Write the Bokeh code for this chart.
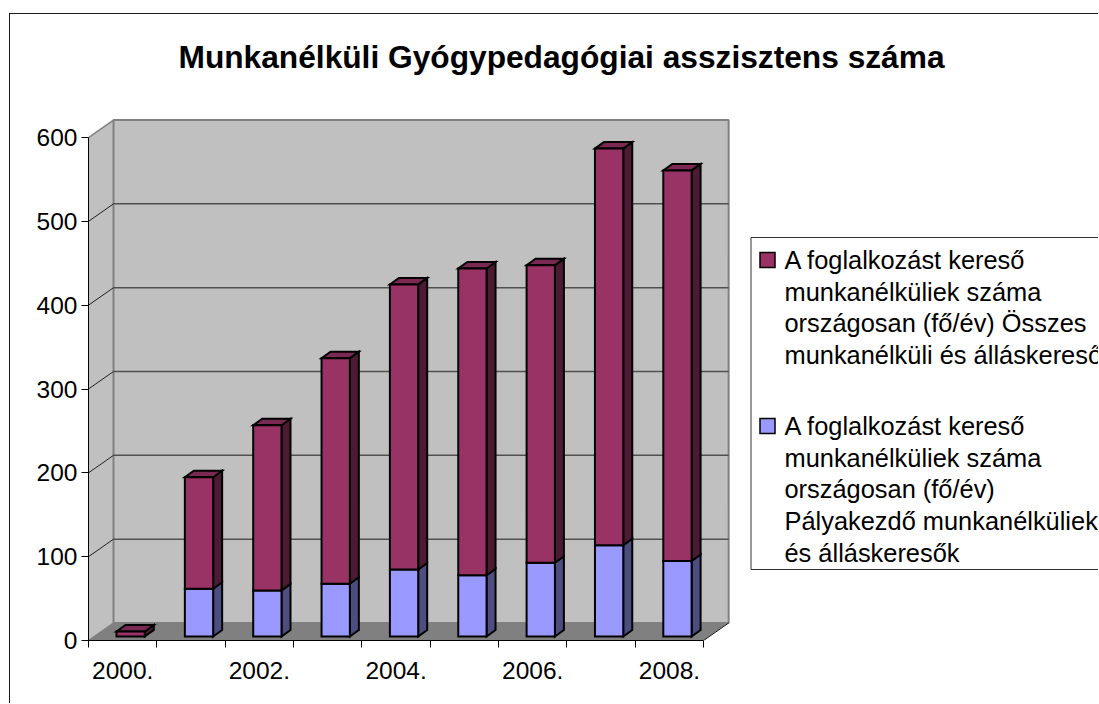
from bokeh.plotting import figure
from bokeh.models import LinearAxis, FixedTicker, Range1d, Title
from bokeh.core.properties import value
from bokeh.embed import file_html
from bokeh.resources import INLINE

years = ["2000.", "2001.", "2002.", "2003.", "2004.", "2005.", "2006.", "2007.", "2008."]
palyakezdo = [0, 57, 55, 63, 80, 73, 88, 109, 90]
osszes = [6, 133, 197, 269, 340, 366, 355, 473, 466]
y_ticks = [0, 100, 200, 300, 400, 500, 600]
title_text = "Munkanélküli Gyógypedagógiai asszisztens száma"
legend_osszes = ["A foglalkozást kereső", "munkanélküliek száma", "országosan (fő/év) Összes", "munkanélküli és álláskereső"]
legend_palya = ["A foglalkozást kereső", "munkanélküliek száma", "országosan (fő/év)", "Pályakezdő munkanélküliek", "és álláskeresők"]

FONT = "Liberation Sans"
MAROON, MAROON_SIDE, MAROON_TOP = "#993366", "#4d1a33", "#7a2952"
BLUE, BLUE_SIDE = "#9999ff", "#4d4d80"

# pixel layout (page pixels)
CANVAS_L, CANVAS_T = 10, 14
PX_L, PX_R, PX_T, PX_B = 88.0, 1099.0, 76.0, 640.0
STEP_X = 68.35
STEP_Y = 0.8383
def X(px): return (px - PX_L) / STEP_X
def Y(py): return (PX_B - py) / STEP_Y
DX, DY = 25 / STEP_X, 17.5 / STEP_Y          # wall depth
BDX, BDY = 9 / STEP_X, 6.5 / STEP_Y          # bar depth
BASE = 4 / STEP_Y
BOFF, BW = 28 / STEP_X, 28.3 / STEP_X
N = len(years)

p = figure(width=int(1099 - CANVAS_L), height=int(704 - CANVAS_T), output_backend="svg", toolbar_location=None,
           x_range=Range1d(0, X(PX_R)), y_range=Range1d(0, Y(PX_T)),
           min_border_left=int(PX_L - CANVAS_L), min_border_right=0,
           min_border_top=int(PX_T - CANVAS_T), min_border_bottom=int(704 - PX_B),
           x_axis_type=None, y_axis_type=None,
           margin=(CANVAS_T - 1, 0, 0, CANVAS_L - 1),
           styles={"border-top": "1px solid #1a1a1a", "border-left": "1px solid #1a1a1a"})
p.outline_line_color = None
p.xgrid.visible = False
p.ygrid.visible = False

# title
p.add_layout(Title(text=title_text, text_font=FONT, text_font_size="31.7px", text_font_style="bold",
                   text_color="black", align="left", offset=90, standoff=3), "above")

# walls
top_v = y_ticks[-1]
xb0, xb1 = DX, N + DX
p.patch([0, DX, DX, 0], [0, DY, top_v + DY, top_v], fill_color="#c0c0c0", line_color=None)
p.patch([xb0, xb1, xb1, xb0], [DY, DY, top_v + DY, top_v + DY], fill_color="#c0c0c0",
        line_color="#808080", line_width=2)
p.patch([0, N, xb1, xb0], [0, 0, DY, DY], fill_color="#808080", line_color=None)
# gridlines
gv = y_ticks[1:-1]
p.multi_line([[DX, xb1] for _ in gv], [[v + DY, v + DY] for v in gv], line_color="#505050", line_width=1.5)
p.multi_line([[0, DX] for _ in gv], [[v, v + DY] for v in gv], line_color="#202020", line_width=1)
p.line([0, DX], [top_v, top_v + DY], line_color="#808080", line_width=1.5)
p.line([0, DX], [0, DY], line_color="#808080", line_width=1.5)
p.line([N, xb1], [0, DY], line_color="#202020", line_width=1)

# stacked 3D bars
LW = 2
for i in range(N):
    x0 = i + BOFF
    x1 = x0 + BW
    b = palyakezdo[i]
    t = b + osszes[i]
    if b > 0:
        p.patch([x1, x1 + BDX, x1 + BDX, x1], [BASE, BASE + BDY, BASE + b + BDY, BASE + b],
                fill_color=BLUE_SIDE, line_color="black", line_width=LW, line_join="miter")
        p.quad(left=x0, right=x1, bottom=BASE, top=BASE + b, fill_color=BLUE, line_color="black",
               line_width=LW, line_join="miter")
    p.patch([x1, x1 + BDX, x1 + BDX, x1], [BASE + b, BASE + b + BDY, BASE + t + BDY, BASE + t],
            fill_color=MAROON_SIDE, line_color="black", line_width=LW, line_join="miter")
    p.patch([x0, x1, x1 + BDX, x0 + BDX], [BASE + t, BASE + t, BASE + t + BDY, BASE + t + BDY],
            fill_color=MAROON_TOP, line_color="black", line_width=LW, line_join="miter")
    p.quad(left=x0, right=x1, bottom=BASE + b, top=BASE + t, fill_color=MAROON, line_color="black",
           line_width=LW, line_join="miter")

# legend
p.quad(left=X(750.5), right=X(1300), bottom=Y(569), top=Y(237), fill_color="white", line_color="#303030", line_width=1)
LINE_H = 31.7
def legend_block(lines, swatch_top, color):
    p.quad(left=X(759.5), right=X(774.5), bottom=Y(swatch_top + 15), top=Y(swatch_top),
           fill_color=color, line_color="black", line_width=1.5, line_join="miter")
    ys = [Y(swatch_top + 7.5 + k * LINE_H) for k in range(len(lines))]
    p.text(x=[X(784)] * len(lines), y=ys, text=lines, text_font=value(FONT), text_font_size=value("25.4px"),
           text_color="black", text_baseline="middle", text_align="left")
legend_block(legend_osszes, 252, MAROON)
legend_block(legend_palya, 418, BLUE)

# axes
yaxis = LinearAxis(ticker=FixedTicker(ticks=y_ticks), bounds=(0, 600), axis_line_color="black", axis_line_width=1,
                   major_tick_line_color="black", major_tick_out=7, major_tick_in=0, minor_tick_line_color=None,
                   major_label_text_font=FONT, major_label_text_font_size="24.5px", major_label_text_color="black",
                   major_label_standoff=4)
p.add_layout(yaxis, "left")
centers = [i + 0.5 for i in range(0, N, 2)]
xaxis = LinearAxis(ticker=FixedTicker(ticks=centers, minor_ticks=list(range(N + 1))), bounds=(0, N),
                   axis_line_color="black", axis_line_width=1,
                   major_tick_line_color=None, major_tick_out=0, major_tick_in=0,
                   minor_tick_line_color="black", minor_tick_out=7, minor_tick_in=0,
                   major_label_overrides={c: years[int(c)] for c in centers},
                   major_label_text_font=FONT, major_label_text_font_size="24.5px", major_label_text_color="black",
                   major_label_standoff=14)
p.add_layout(xaxis, "below")

open("out.html", "w").write(file_html(p, INLINE))
